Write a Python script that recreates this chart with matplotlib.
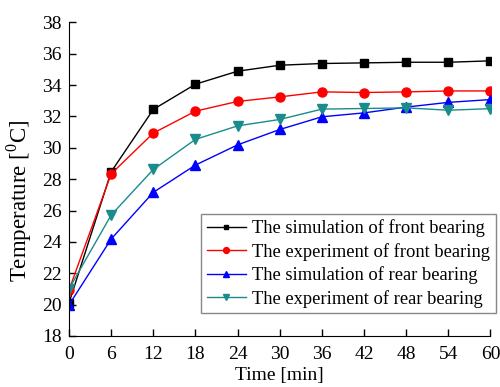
import matplotlib.pyplot as plt

plt.rcParams['font.family'] = ['Liberation Serif', 'DejaVu Serif']
plt.rcParams['mathtext.fontset'] = 'custom'
plt.rcParams['mathtext.rm'] = 'Liberation Serif'

# time [min]
t = [0, 6, 12, 18, 24, 30, 36, 42, 48, 54, 60]

sim_front = [20.1, 28.47, 32.45, 34.06, 34.89, 35.27, 35.38, 35.42, 35.46, 35.46, 35.55]
exp_front = [20.93, 28.34, 30.94, 32.34, 32.96, 33.25, 33.57, 33.53, 33.57, 33.63, 33.63]
sim_rear = [19.98, 24.18, 27.16, 28.9, 30.19, 31.17, 31.98, 32.23, 32.6, 32.9, 33.08]
exp_rear = [21.0, 25.71, 28.62, 30.54, 31.4, 31.81, 32.47, 32.51, 32.55, 32.4, 32.5]

labels = ['The simulation of front bearing',
          'The experiment of front bearing',
          'The simulation of rear bearing',
          'The experiment of rear bearing']

fig = plt.figure(figsize=(5, 3.87), dpi=100)
ax = fig.add_axes([0.138, 0.132, 0.843, 0.810])

ax.plot(t, sim_front, color='black', marker='s', ms=5.5, lw=1, label=labels[0])
ax.plot(t, exp_front, color='red', marker='o', ms=6.5, lw=1, label=labels[1])
ax.plot(t, sim_rear, color='blue', marker='^', ms=6.5, lw=1, label=labels[2])
ax.plot(t, exp_rear, color='#1a8c8c', marker='v', ms=6.5, lw=1, label=labels[3])

ax.set_xlim(0, 60)
ax.set_ylim(18, 38)
ax.set_xticks(t)
ax.set_yticks(range(18, 39, 2))
ax.tick_params(direction='in', length=5, width=1, labelsize=14)
ax.tick_params(axis='x', pad=7)
ax.tick_params(axis='y', pad=5)
ax.spines['top'].set_visible(False)
ax.spines['right'].set_visible(False)

ax.set_xlabel('Time [min]', fontsize=14, labelpad=3)
ax.set_ylabel('Temperature [$^0$C]', fontsize=16.5)
ax.yaxis.set_label_coords(-0.082, 0.43)

leg = ax.legend(loc='upper left', bbox_to_anchor=(201 / 500, 1 - 214 / 387),
                bbox_transform=fig.transFigure, fontsize=13.3, frameon=True,
                fancybox=False, edgecolor='#888888', framealpha=1,
                handlelength=2.16, handletextpad=0.32, labelspacing=0.3,
                borderaxespad=0, borderpad=0.3, markerscale=0.65)
leg.get_frame().set_linewidth(1)

fig.savefig('out.png', dpi=100)
